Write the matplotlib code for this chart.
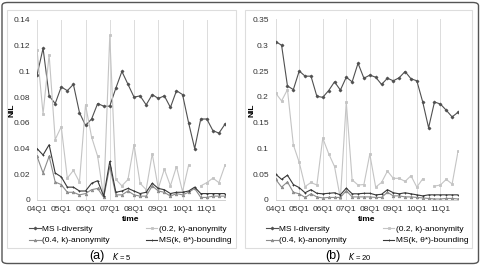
import numpy as np
import matplotlib
matplotlib.use("Agg")
import matplotlib.pyplot as plt
from matplotlib.patches import FancyBboxPatch, Rectangle

plt.rcParams['font.family'] = ['Liberation Sans', 'DejaVu Sans']

quarters = [f"{y:02d}Q{q}" for y in range(4, 12) for q in range(1, 5)]
tick_labels = ["04Q1", "05Q1", "06Q1", "07Q1", "08Q1", "09Q1", "10Q1", "11Q1"]

# Panel (a) K = 5
a_ldiv = [0.097, 0.118, 0.081, 0.075, 0.088, 0.085, 0.090, 0.068, 0.058, 0.063,
          0.075, 0.073, 0.073, 0.087, 0.100, 0.090, 0.080, 0.081, 0.074, 0.082,
          0.079, 0.081, 0.072, 0.085, 0.082, 0.060, 0.040, 0.063, 0.063, 0.054,
          0.052, 0.059]
a_k02 = [0.117, 0.067, 0.113, 0.047, 0.057, 0.017, 0.023, 0.014, 0.074, 0.049,
         0.034, 0.002, 0.128, 0.016, 0.011, 0.016, 0.043, 0.013, 0.008, 0.036,
         0.009, 0.024, 0.011, 0.026, 0.0065, 0.027, np.nan, 0.011, 0.0135, 0.017,
         0.0135, 0.027]
a_k04 = [0.034, 0.021, 0.034, 0.014, 0.012, 0.006, 0.006, 0.004, 0.005, 0.008,
         0.009, 0.002, 0.026, 0.004, 0.004, 0.007, 0.004, 0.003, 0.003, 0.011,
         0.007, 0.006, 0.003, 0.005, 0.004, 0.006, 0.009, 0.002, 0.002, 0.003,
         0.003, 0.003]
a_bound = [0.040, 0.035, 0.043, 0.021, 0.018, 0.010, 0.010, 0.007, 0.007, 0.013,
           0.015, 0.003, 0.030, 0.006, 0.007, 0.009, 0.007, 0.005, 0.006, 0.013,
           0.009, 0.008, 0.005, 0.006, 0.006, 0.007, 0.010, 0.005, 0.005, 0.005,
           0.005, 0.005]

# Panel (b) K = 20
b_ldiv = [0.307, 0.300, 0.221, 0.214, 0.250, 0.240, 0.240, 0.201, 0.199, 0.212,
          0.229, 0.213, 0.238, 0.229, 0.265, 0.236, 0.242, 0.238, 0.224, 0.236,
          0.231, 0.237, 0.249, 0.235, 0.231, 0.190, 0.140, 0.190, 0.186, 0.174,
          0.161, 0.170]
b_k02 = [0.207, 0.192, 0.214, 0.107, 0.073, 0.026, 0.034, 0.029, 0.120, 0.090,
         0.065, 0.003, 0.190, 0.039, 0.029, 0.030, 0.089, 0.025, 0.034, 0.056,
         0.042, 0.042, 0.036, 0.047, 0.025, 0.041, np.nan, 0.027, 0.029, 0.040,
         0.031, 0.094]
b_k04 = [0.040, 0.025, 0.035, 0.015, 0.012, 0.005, 0.012, 0.006, 0.004, 0.005,
         0.005, 0.005, 0.018, 0.006, 0.006, 0.006, 0.006, 0.005, 0.005, 0.015,
         0.008, 0.008, 0.006, 0.006, 0.005, 0.004, 0.003, 0.002, 0.002, 0.003,
         0.003, 0.002]
b_bound = [0.050, 0.040, 0.048, 0.030, 0.024, 0.014, 0.020, 0.013, 0.012, 0.013,
           0.014, 0.010, 0.023, 0.012, 0.012, 0.013, 0.013, 0.010, 0.011, 0.020,
           0.014, 0.012, 0.014, 0.012, 0.010, 0.008, 0.010, 0.010, 0.010, 0.010,
           0.010, 0.010]

series_names = ["MS l-diversity", "(0.2, k)-anonymity", "(0.4, k)-anonymity",
                "MS(k, θ*)-bounding"]

W, H = 481, 266
fig = plt.figure(figsize=(W / 100, H / 100), dpi=100)

def px(x0, y0, x1, y1):
    # image pixel box -> figure fraction [left, bottom, width, height]
    return [x0 / W, 1 - y1 / H, (x1 - x0) / W, (y1 - y0) / H]

# outer frame
fig.patches.append(FancyBboxPatch((2 / W, 2.5 / H), 476.5 / W, 261 / H,
                                  boxstyle="round,pad=0,rounding_size=0.012",
                                  transform=fig.transFigure, fill=False,
                                  edgecolor="#555555", linewidth=1.0))
# inner chart boxes
for (x0, x1) in [(7, 236), (245, 472)]:
    fig.patches.append(Rectangle((x0 / W, 1 - 248 / H), (x1 - x0) / W, 238 / H,
                                 transform=fig.transFigure, fill=False,
                                 edgecolor="#dddddd", linewidth=0.8))

styles = [dict(color="#505050", marker="D", ms=1.5),
          dict(color="#c4c4c4", marker="s", ms=2.0),
          dict(color="#8c8c8c", marker="^", ms=1.8),
          dict(color="#383838", marker="+", ms=2.0)]

def panel(rect, data, ymax, ystep, yfmt, legend_x, cap_x, cap, ktxt, nil_x):
    ax = fig.add_axes(rect)
    x = np.arange(len(quarters))
    handles = []
    for i in range(4):
        h, = ax.plot(x, data[i], lw=0.8, label=series_names[i],
                     markeredgewidth=0.6, **styles[i])
        handles.append(h)
    ax.set_xlim(0, 31)
    ax.set_ylim(0, ymax)
    ax.set_xticks(np.arange(0, 32, 4))
    ax.set_xticklabels(tick_labels)
    yt = np.arange(0, ymax + ystep / 2, ystep)
    ax.set_yticks(yt)
    ax.set_yticklabels([yfmt(v) for v in yt])
    ax.tick_params(length=0, labelsize=6, colors="#333333")
    ax.tick_params(axis="x", pad=4)
    ax.tick_params(axis="y", pad=5)
    ax.grid(axis="x", color="#dcdcdc", lw=0.7)
    ax.set_axisbelow(True)
    for s in ["top", "right", "left"]:
        ax.spines[s].set_visible(False)
    ax.spines["bottom"].set_color("#d0d0d0")
    ax.spines["bottom"].set_linewidth(0.7)
    ax.set_xlabel("time", fontsize=6, fontweight="bold", labelpad=2.5)
    fig.text(nil_x / W, 1 - 110 / H, "NIL", rotation=90, fontsize=6,
             fontweight="bold", ha="center", va="center")
    leg_handles = [handles[0], handles[2], handles[1], handles[3]]
    fig.legend(leg_handles, [h.get_label() for h in leg_handles],
               loc="upper left", bbox_to_anchor=(legend_x / W, 1 - 225 / H),
               ncol=2, frameon=False, fontsize=6, handlelength=1.4,
               handletextpad=0.2, columnspacing=4.3, labelspacing=0.45,
               borderpad=0, borderaxespad=0)
    fig.text(cap_x / W, 1 - 256 / H, cap, fontsize=9, ha="right", va="center")
    fig.text((cap_x + 8) / W, 1 - 256 / H, ktxt, fontsize=5.5, ha="left",
             va="center")
    return ax

def fmt(v):
    s = f"{v:.2f}".rstrip("0").rstrip(".")
    return s if s else "0"

panel(px(37, 20, 225, 200), [a_ldiv, a_k02, a_k04, a_bound], 0.14, 0.02, fmt,
      29, 104, "(a)", "$K$ = 5", 12)
panel(px(275.7, 19.4, 458, 200), [b_ldiv, b_k02, b_k04, b_bound], 0.35, 0.05, fmt,
      266, 340, "(b)", "$K$ = 20", 252)

fig.savefig("out.png", dpi=100)
